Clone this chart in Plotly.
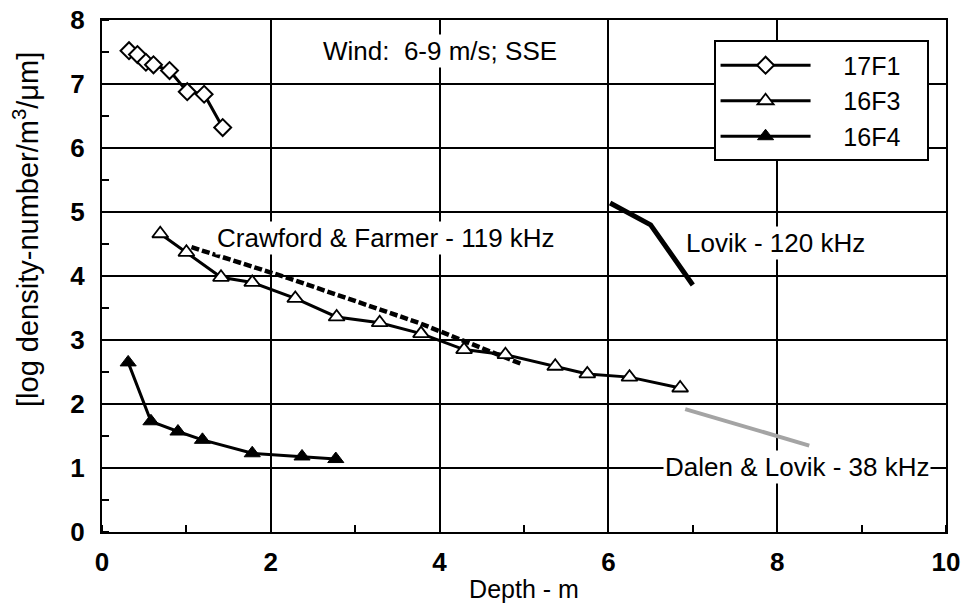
import plotly.graph_objects as go

# ---- data ----
x_17F1 = [0.32, 0.42, 0.52, 0.61, 0.80, 1.01, 1.21, 1.43]
y_17F1 = [7.52, 7.46, 7.34, 7.30, 7.21, 6.88, 6.84, 6.32]

x_16F3 = [0.69, 1.00, 1.41, 1.78, 2.29, 2.78, 3.29, 3.78, 4.29, 4.78, 5.37, 5.75, 6.25, 6.85]
y_16F3 = [4.66, 4.37, 3.98, 3.90, 3.65, 3.36, 3.27, 3.10, 2.85, 2.77, 2.59, 2.47, 2.42, 2.25]

x_16F4 = [0.31, 0.58, 0.90, 1.19, 1.78, 2.37, 2.77]
y_16F4 = [2.65, 1.73, 1.57, 1.44, 1.23, 1.18, 1.14]

x_crawford = [1.06, 2.20, 3.75, 4.30, 4.98]
y_crawford = [4.45, 3.97, 3.27, 2.98, 2.62]

x_lovik = [6.02, 6.50, 7.00]
y_lovik = [5.14, 4.80, 3.86]

x_dalen = [6.91, 8.38]
y_dalen = [1.92, 1.35]

x_ticks = [0, 2, 4, 6, 8, 10]
y_ticks = [0, 1, 2, 3, 4, 5, 6, 7, 8]

FONT = "Liberation Sans, Arial, Helvetica, sans-serif"
LPAD = "\u00a0" * 4
RPAD = "\u00a0" * 3

fig = go.Figure()

fig.add_trace(go.Scatter(
    x=x_crawford, y=y_crawford, mode="lines", showlegend=False,
    line=dict(color="black", width=4.5, dash="8px,3px")))
fig.add_trace(go.Scatter(
    x=x_lovik, y=y_lovik, mode="lines", showlegend=False,
    line=dict(color="black", width=5)))
fig.add_trace(go.Scatter(
    x=x_dalen, y=y_dalen, mode="lines", showlegend=False,
    line=dict(color="#a4a4a4", width=4)))

fig.add_trace(go.Scatter(
    x=x_17F1, y=y_17F1, mode="lines+markers", name=LPAD + "17F1" + RPAD,
    line=dict(color="black", width=3),
    marker=dict(symbol="diamond", size=13, color="white",
                line=dict(color="black", width=2))))
fig.add_trace(go.Scatter(
    x=x_16F3, y=y_16F3, mode="lines+markers", name=LPAD + "16F3" + RPAD,
    line=dict(color="black", width=3),
    marker=dict(symbol="triangle-up", size=14, color="white",
                line=dict(color="black", width=1.8))))
fig.add_trace(go.Scatter(
    x=x_16F4, y=y_16F4, mode="lines+markers", name=LPAD + "16F4" + RPAD,
    line=dict(color="black", width=3),
    marker=dict(symbol="triangle-up", size=14, color="black",
                line=dict(color="black", width=1))))

annos = [
    dict(text="Wind:  6-9 m/s; SSE", x=4.0, y=7.52),
    dict(text="Crawford & Farmer - 119 kHz", x=3.37, y=4.59),
    dict(text="Lovik - 120 kHz", x=7.98, y=4.51),
    dict(text="Dalen & Lovik - 38 kHz", x=8.24, y=1.01),
]
for a in annos:
    fig.add_annotation(text=a["text"], x=a["x"], y=a["y"], xref="x", yref="y",
                       showarrow=False, bgcolor="white", borderpad=1,
                       font=dict(family=FONT, size=26, color="black"))

fig.add_annotation(text="[log density-number/m<sup>3</sup>/μm]",
                   xref="paper", yref="paper", x=-0.09, y=0.59,
                   xanchor="center", yanchor="middle",
                   textangle=-90, showarrow=False,
                   font=dict(family=FONT, size=29, color="black"))

fig.update_xaxes(
    range=[0, 10], tickvals=x_ticks, ticks="", showgrid=True,
    gridcolor="black", gridwidth=1.5, zeroline=False, automargin=False,
    showline=True, linecolor="black", linewidth=2, mirror=True,
    tickfont=dict(family=FONT, size=26, color="black", weight="bold"),
    ticklabelstandoff=6, ticklabeloverflow="allow",
    minor=dict(dtick=1, ticks="inside", ticklen=7, tickwidth=1.5,
               tickcolor="black", showgrid=False),
    title=dict(text="Depth - m", standoff=4,
               font=dict(family=FONT, size=25, color="black")))
fig.update_yaxes(
    range=[0, 8], tickvals=y_ticks, ticks="", showgrid=True,
    gridcolor="black", gridwidth=1.5, zeroline=False, automargin=False,
    showline=True, linecolor="black", linewidth=2, mirror=True,
    tickfont=dict(family=FONT, size=26, color="black", weight="bold"),
    ticklabelstandoff=10, ticklabeloverflow="allow",
    minor=dict(dtick=0.5, ticks="inside", ticklen=7, tickwidth=1.5,
               tickcolor="black", showgrid=False))

fig.update_layout(
    width=963, height=614,
    margin=dict(l=102, r=17, t=20, b=82),
    paper_bgcolor="white", plot_bgcolor="white",
    font=dict(family=FONT, color="black"),
    legend=dict(x=0.7246, y=0.96, xanchor="left", yanchor="top",
                bgcolor="white", bordercolor="black", borderwidth=2,
                font=dict(family=FONT, size=25, color="black"),
                itemwidth=90, tracegroupgap=0),
)

# remove the page's default body margin so the figure fills the window exactly
fig.write_html(
    "out.html",
    config={"displayModeBar": False},
    post_script="document.body.style.margin='0';"
                "document.body.style.overflow='hidden';")
